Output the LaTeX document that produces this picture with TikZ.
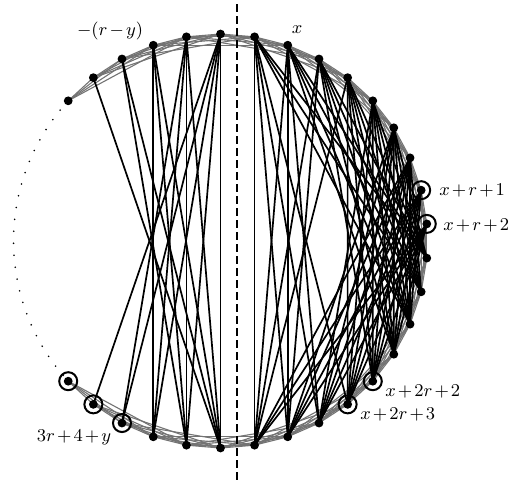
\documentclass[tikz,border=0pt]{standalone}
\begin{document}
\begin{tikzpicture}[x=0.5pt,y=-0.5pt,
  chord/.style={line width=0.85pt,black},
  band/.style={line width=0.55pt,black!55},
  vdot/.style={black},
  ring/.style={line width=1pt,black},
  axis/.style={line width=1pt,dash pattern=on 4pt off 2pt},
  dotarc/.style={line width=0.9pt,line cap=round,dash pattern=on 0pt off 6pt},
  lab/.style={inner sep=1pt,font=\small}]
\useasboundingbox (0,0) rectangle (512,482);
\medmuskip=2mu
\coordinate (c) at (220.5,241);
% vertices k=-5..24 stored as p0..p29 (m=k+5)
\foreach \m in {0,...,29} {
  \pgfmathsetmacro\t{90-(\m-5)*360/38}
  \coordinate (p\m) at ({220.5+207*cos(\t)},{241-207*sin(\t)});
}
% dotted arc for omitted vertices
\draw[dotarc] (c) ++(139.5:207) arc[start angle=139.5, end angle=220.5, radius=207];
% grey band: short chords
\foreach \i in {0,...,29} {
  \foreach \d in {1,2,3,4} {
    \pgfmathtruncatemacro\j{\i+\d}
    \ifnum\j<30 \draw[band] (p\i) -- (p\j); \fi
  }
}
% right part chords: upper k=1..9 (m=6..14) to lower k=10..18 (m=15..23)
\foreach \a in {6,...,14} {
  \foreach \b in {15,...,23} {
    \pgfmathtruncatemacro\dd{\b-\a}
    \ifnum\dd>3 \ifnum\dd<12 \draw[chord] (p\a) -- (p\b); \fi\fi
    \ifnum\dd>13 \draw[chord] (p\a) -- (p\b); \fi
  }
}
% left part chords
\foreach \a in {1,...,5} {
  \foreach \b in {24,...,28} {
    \pgfmathtruncatemacro\dd{\b-\a}
    \ifnum\dd<24 \draw[chord] (p\a) -- (p\b); \fi
  }
}
% vertices
\foreach \m in {0,...,29} { \fill[vdot] (p\m) circle (4.4); }
\foreach \m in {13,14,19,20,27,28,29} { \draw[ring] (p\m) circle (9); }
% dashed axis
\coordinate (at) at (237,4);
\coordinate (ab) at (237,482);
\draw[axis] (at) -- (ab);
% labels
\node[lab] (lry) at (110,31) {$-(r-y)$};
\node[lab] (lx) at (297,30) {$x$};
\node[lab,anchor=west] (l1) at (437,191) {$x+r+1$};
\node[lab,anchor=west] (l2) at (441,226) {$x+r+2$};
\node[lab,anchor=west] (l3) at (383,392) {$x+2r+2$};
\node[lab,anchor=west] (l4) at (358,415) {$x+2r+3$};
\node[lab] (l5) at (74,437) {$3r+4+y$};
\end{tikzpicture}
\end{document}
